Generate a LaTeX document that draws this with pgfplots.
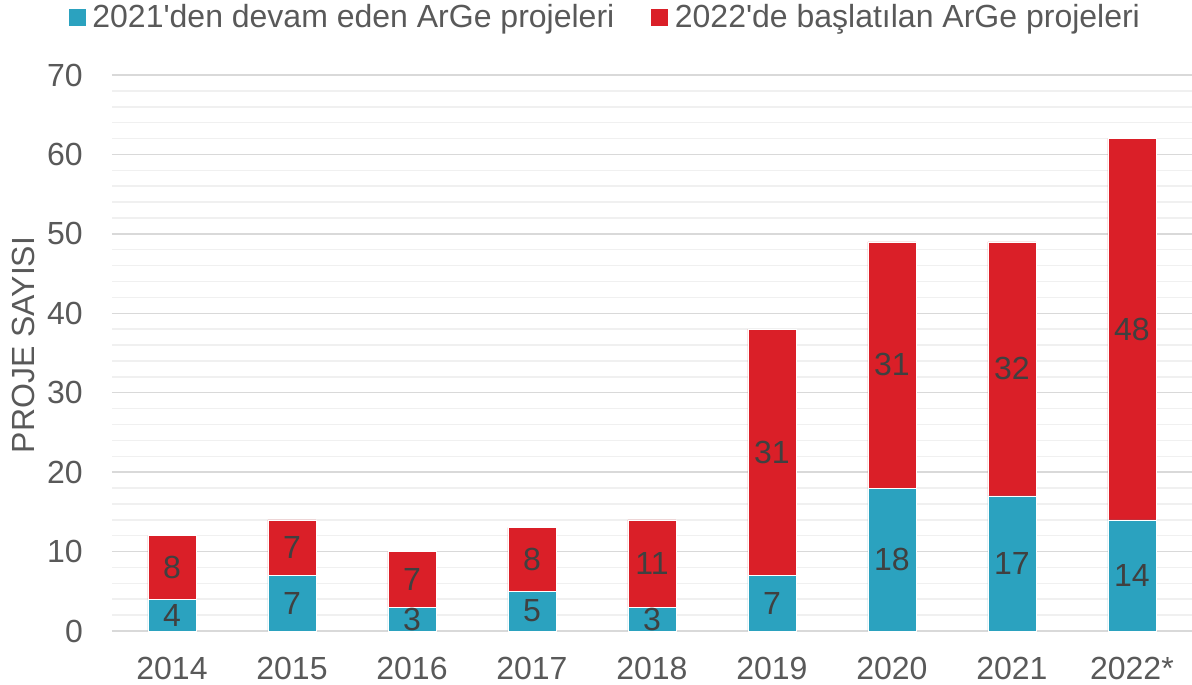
\documentclass[border=0pt]{standalone}
\usepackage{fontspec}
\setmainfont{Liberation Sans}[Ligatures=TeXOff]
\usepackage{pgfplots}
\pgfplotsset{compat=1.18}
\definecolor{teal1}{HTML}{2BA2BF}
\definecolor{red1}{HTML}{DA1F28}
\definecolor{txt}{HTML}{595959}
\definecolor{lbl}{HTML}{404040}
\definecolor{majgrid}{HTML}{D9D9D9}
\definecolor{mingrid}{HTML}{F0F0F0}
\begin{document}
\begin{tikzpicture}
\path[use as bounding box] (-112bp,-54bp) rectangle (1080bp,631bp);
\begin{axis}[
  at={(0,0)}, anchor=south west,
  scale only axis, width=1080bp, height=556bp,
  ybar stacked, bar width=48bp,
  xmin=-0.5, xmax=8.5, ymin=0, ymax=70,
  xtick=data,
  xticklabels={2014,2015,2016,2017,2018,2019,2020,2021,2022*},
  ytick={0,10,...,70},
  minor y tick num=4,
  ymajorgrids, yminorgrids,
  major grid style={majgrid, line width=1.5bp},
  minor grid style={mingrid, line width=1.5bp},
  axis line style={draw=none},
  major tick length=0pt, minor tick length=0pt,
  tick style={draw=none},
  /pgf/number format/assume math mode=true,
  ticklabel style={font=\fontsize{32bp}{38bp}\selectfont, text=txt, inner sep=0pt},
  yticklabel style={anchor=east, xshift=-29bp},
  xticklabel style={anchor=north, yshift=-26bp},
  ylabel={PROJE SAYISI},
  ylabel style={font=\fontsize{32bp}{38bp}\selectfont, text=txt, at={(axis description cs:-0.0824,0.5144)}, anchor=center, inner sep=0pt},
  nodes near coords,
  every node near coord/.append style={anchor=center, font=\fontsize{32bp}{38bp}\selectfont, text=lbl, inner sep=0pt},
  legend columns=2,
  legend style={at={(axis description cs:0.456,1.1043)}, anchor=center, draw=none, fill=none,
    font=\fontsize{32bp}{38bp}\selectfont, text=txt,
    nodes={inner sep=0pt, anchor=west},
    /tikz/every odd column/.append style={column sep=7bp},
    /tikz/every even column/.append style={column sep=37bp}},
]
\addplot[fill=teal1, draw=white, line width=0.5bp,
  legend image code/.code={\fill[teal1] (0bp,-8bp) rectangle (16bp,8bp);}]
  coordinates {(0,4) (1,7) (2,3) (3,5) (4,3) (5,7) (6,18) (7,17) (8,14)};
\addlegendentry{2021'den devam eden ArGe projeleri}
\addplot[fill=red1, draw=white, line width=0.5bp,
  legend image code/.code={\fill[red1] (0bp,-8bp) rectangle (16bp,8bp);}]
  coordinates {(0,8) (1,7) (2,7) (3,8) (4,11) (5,31) (6,31) (7,32) (8,48)};
\addlegendentry{2022'de başlatılan ArGe projeleri}
\end{axis}
\end{tikzpicture}
\end{document}
